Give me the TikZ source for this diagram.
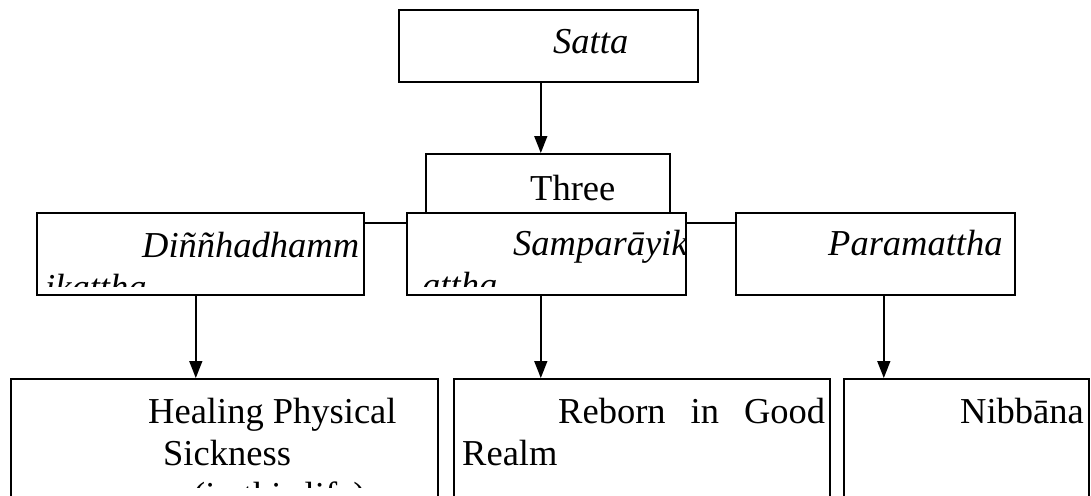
\documentclass[tikz,border=0pt]{standalone}
\usepackage{fontspec}
\setmainfont{Liberation Serif}
\usetikzlibrary{arrows.meta}

\begin{document}
\begin{tikzpicture}[x=1pt,y=-1pt,
        box/.style={draw, line width=1.6pt, fill=white, anchor=north west, inner sep=0pt},
        txt/.style={anchor=base west, inner sep=0pt, font=\fontsize{36.5}{42}\selectfont},
        arr/.style={-{Triangle[length=17pt,width=13pt]}, line width=1.5pt},
        link/.style={line width=1.6pt}]
        \clip (0,0) rectangle (1091,495);
        % Top box
        \node[box, minimum width=299pt, minimum height=72pt] (satta) at (398,9) {};
        \node[txt] (sattaT) at (553,53) {\textit{Satta}};
        % Middle row
        \node[box, minimum width=244pt, minimum height=70pt] (three) at (425,153) {};
        \node[txt] (threeT) at (530,200) {Three};
        \node[box, minimum width=327pt, minimum height=82pt] (dit) at (36,212) {};
        \begin{scope}
            \clip (37,213) rectangle (362,286);
            \node[txt] (ditT1) at (142,257) {\textit{Diññhadhamm}};
            \node[txt] (ditT2) at (45,299) {\textit{ikattha}};
        \end{scope}
        \node[box, minimum width=279pt, minimum height=82pt] (par) at (735,212) {};
        \node[txt] (parT) at (828,255) {\textit{Paramattha}};
        \node[box, minimum width=279pt, minimum height=82pt] (sam) at (406,212) {};
        \begin{scope}
            \clip (407,213) rectangle (684,286);
            \node[txt] (samT1) at (513,255) {\textit{Samparāyik}};
            \node[txt] (samT2) at (422,297) {\textit{attha}};
        \end{scope}
        \draw[link] ([yshift=-11pt]dit.north east) -- ([yshift=-11pt]sam.north west);
        \draw[link] ([yshift=-11pt]sam.north east) -- ([yshift=-11pt]par.north west);
        % Bottom row
        \node[box, minimum width=427pt, minimum height=140pt] (heal) at (10,378) {};
        \begin{scope}
            \clip (11,379) rectangle (436,487);
            \node[txt] (healT1) at (148,423) {Healing Physical};
            \node[txt] (healT2) at (163,465) {Sickness};
            \node[txt] (healT3) at (193,507) {(in this life)};
        \end{scope}
        \node[box, minimum width=376pt, minimum height=140pt] (reborn) at (453,378) {};
        \node[txt] (rebornT1) at (558,423) {\makebox[267pt][s]{Reborn in Good}};
        \node[txt] (rebornT2) at (462,465) {Realm};
        \node[box, minimum width=245pt, minimum height=140pt] (nib) at (843,378) {};
        \node[txt] (nibT) at (960,423) {Nibbāna};
        % Arrows
        \draw[arr] ([xshift=-7.5pt]satta.south) -- ([xshift=-7.5pt]satta.south |- three.north);
        \draw[arr] ([xshift=-4.5pt]dit.south) -- ([xshift=-4.5pt]dit.south |- heal.north);
        \draw[arr] ([xshift=-5.5pt]sam.south) -- ([xshift=-5.5pt]sam.south |- reborn.north);
        \draw[arr] ([xshift=8.5pt]par.south) -- ([xshift=8.5pt]par.south |- nib.north);
\end{tikzpicture}
\end{document}
